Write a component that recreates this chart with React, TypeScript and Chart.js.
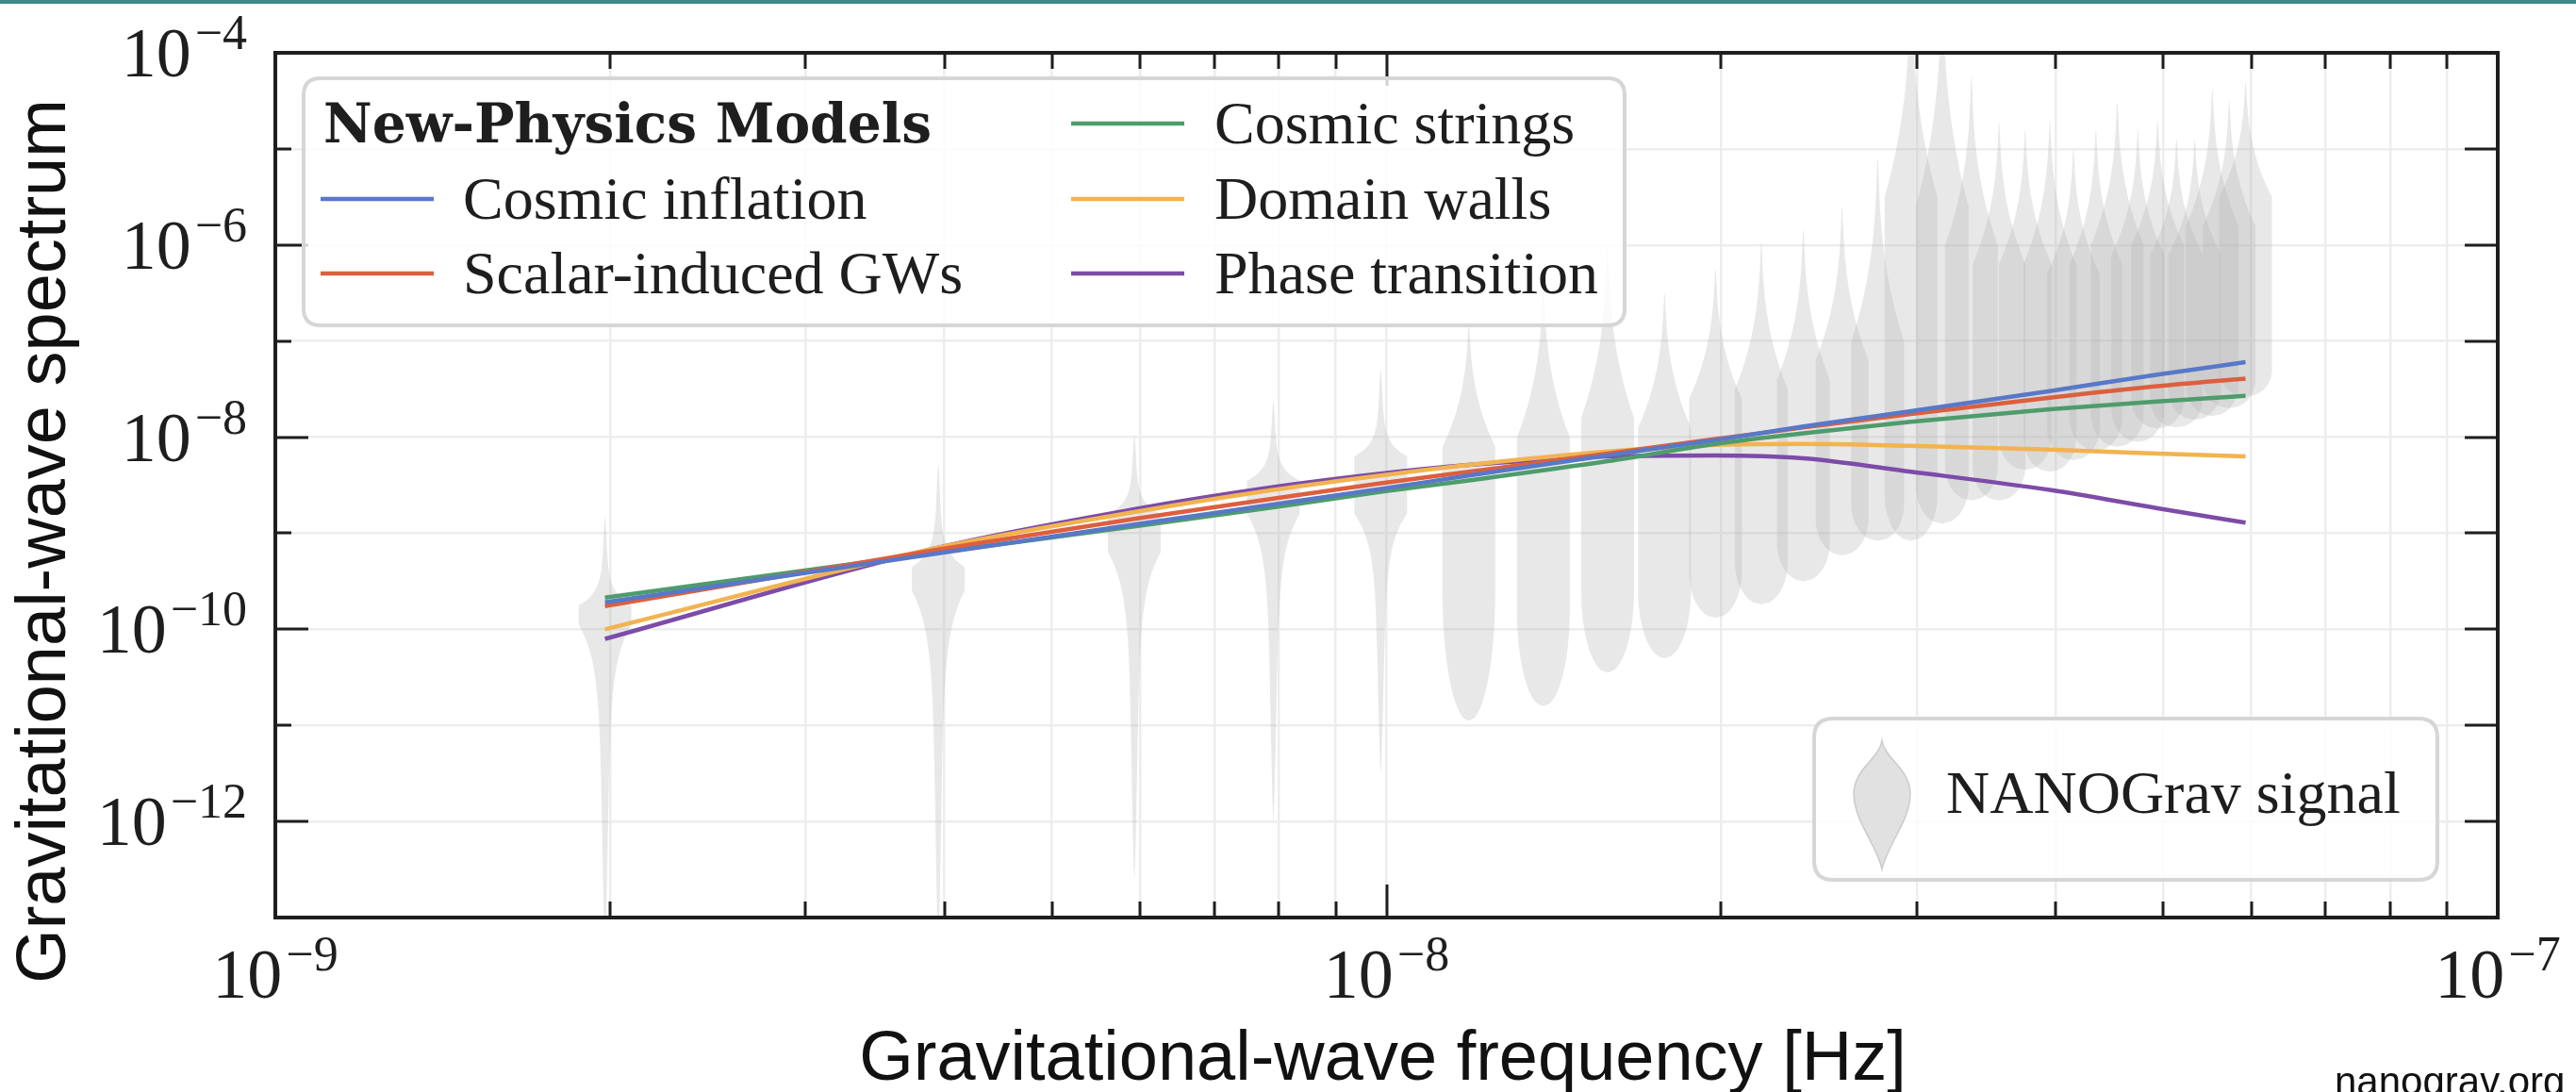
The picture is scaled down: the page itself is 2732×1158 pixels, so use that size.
import React, { useEffect, useRef } from "react";
import { Chart, registerables } from "chart.js";

Chart.register(...registerables);

const W = 2732;
const H = 1158;
const PLOT_L = 292;
const PLOT_R = 2649;
const PLOT_T = 56;
const PLOT_B = 973;

// ---------- data ----------
// NANOGrav frequency bins (Hz)
const binFreqs = [
  1.98e-9, 3.95e-9, 5.93e-9, 7.91e-9, 9.88e-9, 1.186e-8, 1.384e-8, 1.581e-8, 1.779e-8, 1.977e-8,
  2.174e-8, 2.372e-8, 2.57e-8, 2.767e-8, 2.965e-8, 3.163e-8, 3.36e-8, 3.558e-8, 3.756e-8, 3.953e-8,
  4.151e-8, 4.349e-8, 4.546e-8, 4.744e-8, 4.942e-8, 5.139e-8, 5.337e-8, 5.535e-8, 5.732e-8, 5.93e-8,
];
// violin outlines, log10 of spectrum: tip, start of full width, end of full width, bottom end
const violinTop = [
  -8.83, -8.28, -7.98, -7.62, -7.3, -6.8, -6.4, -6.0, -6.5, -6.25,
  -5.98, -5.84, -5.61, -5.09, -3.3, -3.3, -4.25, -4.72, -4.8, -4.7,
  -5.0, -4.8, -4.51, -4.8, -4.7, -4.9, -4.9, -4.37, -4.5, -4.3,
];
const violinUpper = [
  -9.75, -9.35, -8.8, -8.45, -8.2, -8.1, -8.0, -7.8, -7.9, -7.6,
  -7.5, -7.4, -7.2, -7.0, -5.5, -5.6, -6.0, -6.2, -6.2, -6.2,
  -6.3, -6.2, -6.0, -6.1, -6.0, -6.1, -6.1, -5.8, -5.8, -5.5,
];
const violinLower = [
  -9.95, -9.6, -9.2, -8.8, -8.8, -9.6, -9.8, -9.6, -9.6, -9.4,
  -9.3, -9.1, -8.85, -8.7, -8.6, -8.5, -8.3, -8.3, -8.0, -8.0,
  -7.9, -7.8, -7.75, -7.7, -7.6, -7.6, -7.5, -7.45, -7.4, -7.3,
];
const violinBottom = [
  -13.3, -13.3, -12.6, -12.0, -11.5, -10.95, -10.8, -10.45, -10.3, -9.88,
  -9.74, -9.5, -9.23, -9.08, -9.08, -8.9, -8.66, -8.66, -8.34, -8.36,
  -8.24, -8.14, -8.1, -8.05, -7.91, -7.9, -7.82, -7.78, -7.7, -7.58,
];
const violinRound = [
  0, 0, 0, 0, 0, 1, 1, 1, 1, 1,
  1, 1, 1, 1, 1, 1, 1, 1, 1, 1,
  1, 1, 1, 1, 1, 1, 1, 1, 1, 1,
];

// model curves, log10 of spectrum at these frequencies
const modelFreqs = [
  1.98e-9, 3.95e-9, 5.93e-9, 7.91e-9, 9.88e-9, 1.186e-8, 1.581e-8, 1.977e-8, 2.372e-8, 2.965e-8,
  3.953e-8, 4.942e-8, 5.93e-8,
];
const cosmicInflation = [-9.72, -9.21, -8.91, -8.7, -8.54, -8.4, -8.19, -8.03, -7.89, -7.73, -7.52, -7.35, -7.22];
const scalarInduced = [-9.76, -9.17, -8.85, -8.64, -8.48, -8.36, -8.17, -8.02, -7.9, -7.76, -7.59, -7.47, -7.39];
const cosmicStrings = [-9.67, -9.2, -8.93, -8.73, -8.57, -8.45, -8.25, -8.07, -7.96, -7.84, -7.71, -7.63, -7.57];
const domainWalls = [-10.0, -9.15, -8.78, -8.55, -8.4, -8.29, -8.15, -8.08, -8.07, -8.09, -8.13, -8.17, -8.2];
const phaseTransition = [-10.1, -9.15, -8.75, -8.52, -8.38, -8.29, -8.2, -8.19, -8.22, -8.36, -8.55, -8.74, -8.89];

const modelNames = ["Cosmic inflation", "Scalar-induced GWs", "Cosmic strings", "Domain walls", "Phase transition"];
const modelColors = ["#5878c8", "#dc5f3e", "#4e9c6c", "#f2b350", "#7c4ca8"];

// axes
const xTicks = [
  1e-9, 2e-9, 3e-9, 4e-9, 5e-9, 6e-9, 7e-9, 8e-9, 9e-9,
  1e-8, 2e-8, 3e-8, 4e-8, 5e-8, 6e-8, 7e-8, 8e-8, 9e-8, 1e-7,
];
const xLabelExps = [-9, -8, -7];
const yDecadeExps = [-13, -12, -11, -10, -9, -8, -7, -6, -5, -4];
const yLabelExps = [-12, -10, -8, -6, -4];

const xTitle = "Gravitational-wave frequency [Hz]";
const yTitle = "Gravitational-wave spectrum";
const legendTitle = "New-Physics Models";
const signalLabel = "NANOGrav signal";
const footer = "nanograv.org";

// ---------- drawing helpers ----------
const SERIF = '"Liberation Serif", "DejaVu Serif", serif';
const SANS = '"Liberation Sans", Arial, sans-serif';
const INK = "#1e1e1e";
const VIOLIN_HALF = 28;

function violinFrac(t: number, top: number, upper: number, lower: number, bottom: number, round: number) {
  if (t > top || t < bottom) return 0;
  if (t >= upper) {
    const s = (top - t) / (top - upper);
    return round
      ? 0.1 * Math.sqrt(s) + 0.9 * Math.pow(s, 2.5)
      : 0.12 * Math.pow(s, 0.6) + 0.88 * Math.exp(-(1 - s) * 7);
  }
  if (t >= lower) return 1;
  const u = (lower - t) / (lower - bottom);
  return round ? Math.sqrt(Math.max(0, 1 - u * u)) : 0.22 * Math.pow(1 - u, 0.7) + 0.78 * Math.exp(-u * 9);
}

function drawPow(ctx: CanvasRenderingContext2D, exp: number, x: number, baseline: number, align: "center" | "right") {
  const base = "10";
  const sup = "\u2212" + String(Math.abs(exp));
  ctx.font = `74px ${SERIF}`;
  const wb = ctx.measureText(base).width;
  ctx.font = `52px ${SERIF}`;
  const ws = ctx.measureText(sup).width;
  const gap = 4;
  const total = wb + gap + ws;
  const x0 = align === "center" ? x - total / 2 : x - total;
  ctx.textAlign = "left";
  ctx.textBaseline = "alphabetic";
  ctx.fillStyle = INK;
  ctx.font = `74px ${SERIF}`;
  ctx.fillText(base, x0, baseline);
  ctx.font = `52px ${SERIF}`;
  ctx.fillText(sup, x0 + wb + gap, baseline - 29);
}

function roundRect(ctx: CanvasRenderingContext2D, x: number, y: number, w: number, h: number, r: number) {
  ctx.beginPath();
  ctx.moveTo(x + r, y);
  ctx.lineTo(x + w - r, y);
  ctx.quadraticCurveTo(x + w, y, x + w, y + r);
  ctx.lineTo(x + w, y + h - r);
  ctx.quadraticCurveTo(x + w, y + h, x + w - r, y + h);
  ctx.lineTo(x + r, y + h);
  ctx.quadraticCurveTo(x, y + h, x, y + h - r);
  ctx.lineTo(x, y + r);
  ctx.quadraticCurveTo(x, y, x + r, y);
  ctx.closePath();
}

const decor = {
  id: "decor",
  beforeDatasetsDraw(chart: any) {
    const ctx: CanvasRenderingContext2D = chart.ctx;
    const xs = chart.scales.x;
    const ys = chart.scales.y;
    const a = chart.chartArea;
    ctx.save();
    ctx.beginPath();
    ctx.rect(a.left, a.top, a.right - a.left, a.bottom - a.top);
    ctx.clip();
    ctx.fillStyle = "rgba(178,178,178,0.3)";
    const N = 200;
    binFreqs.forEach((f, k) => {
      const cx = xs.getPixelForValue(f);
      const top = violinTop[k];
      const bot = violinBottom[k];
      const pts: [number, number][] = [];
      for (let i = 0; i <= N; i++) {
        const t = top - ((top - bot) * i) / N;
        const w = violinFrac(t, top, violinUpper[k], violinLower[k], bot, violinRound[k]);
        pts.push([w * VIOLIN_HALF, ys.getPixelForValue(Math.pow(10, t))]);
      }
      ctx.beginPath();
      pts.forEach(([w, y], i) => (i === 0 ? ctx.moveTo(cx + w, y) : ctx.lineTo(cx + w, y)));
      for (let i = pts.length - 1; i >= 0; i--) ctx.lineTo(cx - pts[i][0], pts[i][1]);
      ctx.closePath();
      ctx.fill();
    });
    ctx.restore();
  },
  afterDraw(chart: any) {
    const ctx: CanvasRenderingContext2D = chart.ctx;
    const xs = chart.scales.x;
    const ys = chart.scales.y;
    const a = chart.chartArea;
    ctx.save();

    // top accent bar
    ctx.fillStyle = "#3b8b8b";
    ctx.fillRect(0, 0, W, 4);

    // ticks (inward)
    ctx.strokeStyle = INK;
    ctx.lineWidth = 3;
    ctx.beginPath();
    xTicks.forEach((v) => {
      const px = Math.round(xs.getPixelForValue(v));
      const major = xLabelExps.some((e) => Math.abs(Math.log10(v) - e) < 1e-6);
      const len = major ? 35 : 17;
      ctx.moveTo(px, a.bottom);
      ctx.lineTo(px, a.bottom - len);
      ctx.moveTo(px, a.top);
      ctx.lineTo(px, a.top + len);
    });
    yDecadeExps.forEach((e) => {
      const py = Math.round(ys.getPixelForValue(Math.pow(10, e)));
      const major = yLabelExps.includes(e);
      ctx.moveTo(a.left, py);
      ctx.lineTo(a.left + (major ? 35 : 17), py);
      ctx.moveTo(a.right, py);
      ctx.lineTo(a.right - 35, py);
    });
    ctx.stroke();

    // frame
    ctx.lineWidth = 4;
    ctx.strokeRect(a.left, a.top, a.right - a.left, a.bottom - a.top);

    // tick labels
    xLabelExps.forEach((e) => drawPow(ctx, e, xs.getPixelForValue(Math.pow(10, e)), a.bottom + 85, "center"));
    yLabelExps.forEach((e) => drawPow(ctx, e, a.left - 30, ys.getPixelForValue(Math.pow(10, e)) + 25, "right"));

    // axis titles
    ctx.fillStyle = "#111";
    ctx.font = `74px ${SANS}`;
    ctx.textAlign = "center";
    ctx.textBaseline = "alphabetic";
    ctx.fillText(xTitle, (a.left + a.right) / 2 - 4, 1145);
    ctx.save();
    ctx.translate(69, 574);
    ctx.rotate(-Math.PI / 2);
    ctx.fillText(yTitle, 0, 0);
    ctx.restore();

    // footer
    ctx.font = `42px ${SANS}`;
    ctx.textAlign = "left";
    ctx.fillText(footer, 2476, 1161);

    // model legend
    roundRect(ctx, 322, 83, 1401, 262, 18);
    ctx.fillStyle = "rgba(255,255,255,0.8)";
    ctx.fill();
    ctx.strokeStyle = "#d6d6d6";
    ctx.lineWidth = 4;
    ctx.stroke();

    ctx.fillStyle = INK;
    ctx.textAlign = "left";
    ctx.font = `bold 58px "DejaVu Serif", ${SERIF}`;
    {
      const w = ctx.measureText(legendTitle).width;
      ctx.save();
      ctx.translate(343, 151);
      ctx.scale(645 / w, 1);
      ctx.fillText(legendTitle, 0, 0);
      ctx.restore();
    }
    const slots = [
      [340, 211, 491, 232],
      [340, 290, 491, 311],
      [1136, 131, 1288, 152],
      [1136, 211, 1288, 232],
      [1136, 290, 1288, 311],
    ];
    ctx.font = `64px ${SERIF}`;
    modelNames.forEach((name, i) => {
      const [lx, ly, tx, ty] = slots[i];
      ctx.strokeStyle = modelColors[i];
      ctx.lineWidth = 4.5;
      ctx.beginPath();
      ctx.moveTo(lx, ly);
      ctx.lineTo(lx + 120, ly);
      ctx.stroke();
      ctx.fillStyle = INK;
      ctx.fillText(name, tx, ty);
    });

    // signal legend
    roundRect(ctx, 1924, 762, 661, 171, 20);
    ctx.fillStyle = "rgba(255,255,255,0.8)";
    ctx.fill();
    ctx.strokeStyle = "#d6d6d6";
    ctx.lineWidth = 4;
    ctx.stroke();
    {
      const cx = 1996;
      ctx.beginPath();
      ctx.moveTo(cx, 785);
      ctx.bezierCurveTo(cx + 3, 805, cx + 30, 815, cx + 30, 842);
      ctx.bezierCurveTo(cx + 30, 870, cx + 6, 895, cx, 922);
      ctx.bezierCurveTo(cx - 6, 895, cx - 30, 870, cx - 30, 842);
      ctx.bezierCurveTo(cx - 30, 815, cx - 3, 805, cx, 785);
      ctx.closePath();
      ctx.fillStyle = "rgba(180,180,180,0.4)";
      ctx.fill();
      ctx.strokeStyle = "rgba(170,170,170,0.5)";
      ctx.lineWidth = 1.5;
      ctx.stroke();
    }
    ctx.fillStyle = INK;
    ctx.font = `64px ${SERIF}`;
    ctx.fillText(signalLabel, 2064, 862);

    ctx.restore();
  },
};

export default function App() {
  const ref = useRef<HTMLCanvasElement>(null);
  useEffect(() => {
    const canvas = ref.current;
    if (!canvas) return;
    const series = [cosmicInflation, scalarInduced, cosmicStrings, domainWalls, phaseTransition];
    const datasets = series.map((vals, i) => ({
      label: modelNames[i],
      data: modelFreqs.map((f, j) => ({ x: f, y: Math.pow(10, vals[j]) })),
      showLine: true,
      borderColor: modelColors[i],
      backgroundColor: modelColors[i],
      borderWidth: 4.5,
      pointRadius: 0,
      cubicInterpolationMode: "monotone" as const,
      fill: false,
    }));
    const chart = new Chart(canvas, {
      type: "scatter",
      data: { datasets },
      options: {
        animation: false,
        responsive: false,
        devicePixelRatio: 1,
        layout: { padding: { left: PLOT_L, right: W - PLOT_R, top: PLOT_T, bottom: H - PLOT_B } },
        plugins: { legend: { display: false }, tooltip: { enabled: false } },
        scales: {
          x: {
            type: "logarithmic",
            min: 1e-9,
            max: 1e-7,
            ticks: { display: false },
            grid: { color: "#ededed", lineWidth: 2.5, drawTicks: false },
            border: { display: false },
            afterBuildTicks: (s: any) => {
              s.ticks = xTicks.map((v) => ({ value: v }));
            },
            afterFit: (s: any) => {
              s.height = 0;
            },
          },
          y: {
            type: "logarithmic",
            min: 1e-13,
            max: 1e-4,
            ticks: { display: false },
            grid: { color: "#ededed", lineWidth: 2.5, drawTicks: false },
            border: { display: false },
            afterBuildTicks: (s: any) => {
              s.ticks = yDecadeExps.map((e) => ({ value: Math.pow(10, e) }));
            },
            afterFit: (s: any) => {
              s.width = 0;
            },
          },
        },
      } as any,
      plugins: [decor],
    });
    let alive = true;
    if ((document as any).fonts) {
      Promise.all([
        document.fonts.load(`74px "Liberation Serif"`),
        document.fonts.load(`74px "Liberation Sans"`),
        document.fonts.load(`bold 58px "DejaVu Serif"`),
      ])
        .then(() => {
          if (alive) chart.draw();
        })
        .catch(() => {});
    }
    return () => {
      alive = false;
      chart.destroy();
    };
  }, []);
  return (
    <div style={{ position: "absolute", left: 0, top: 0, width: W, height: H, background: "#fff", overflow: "hidden" }}>
      <canvas ref={ref} width={W} height={H} style={{ display: "block", width: W, height: H }} />
    </div>
  );
}
